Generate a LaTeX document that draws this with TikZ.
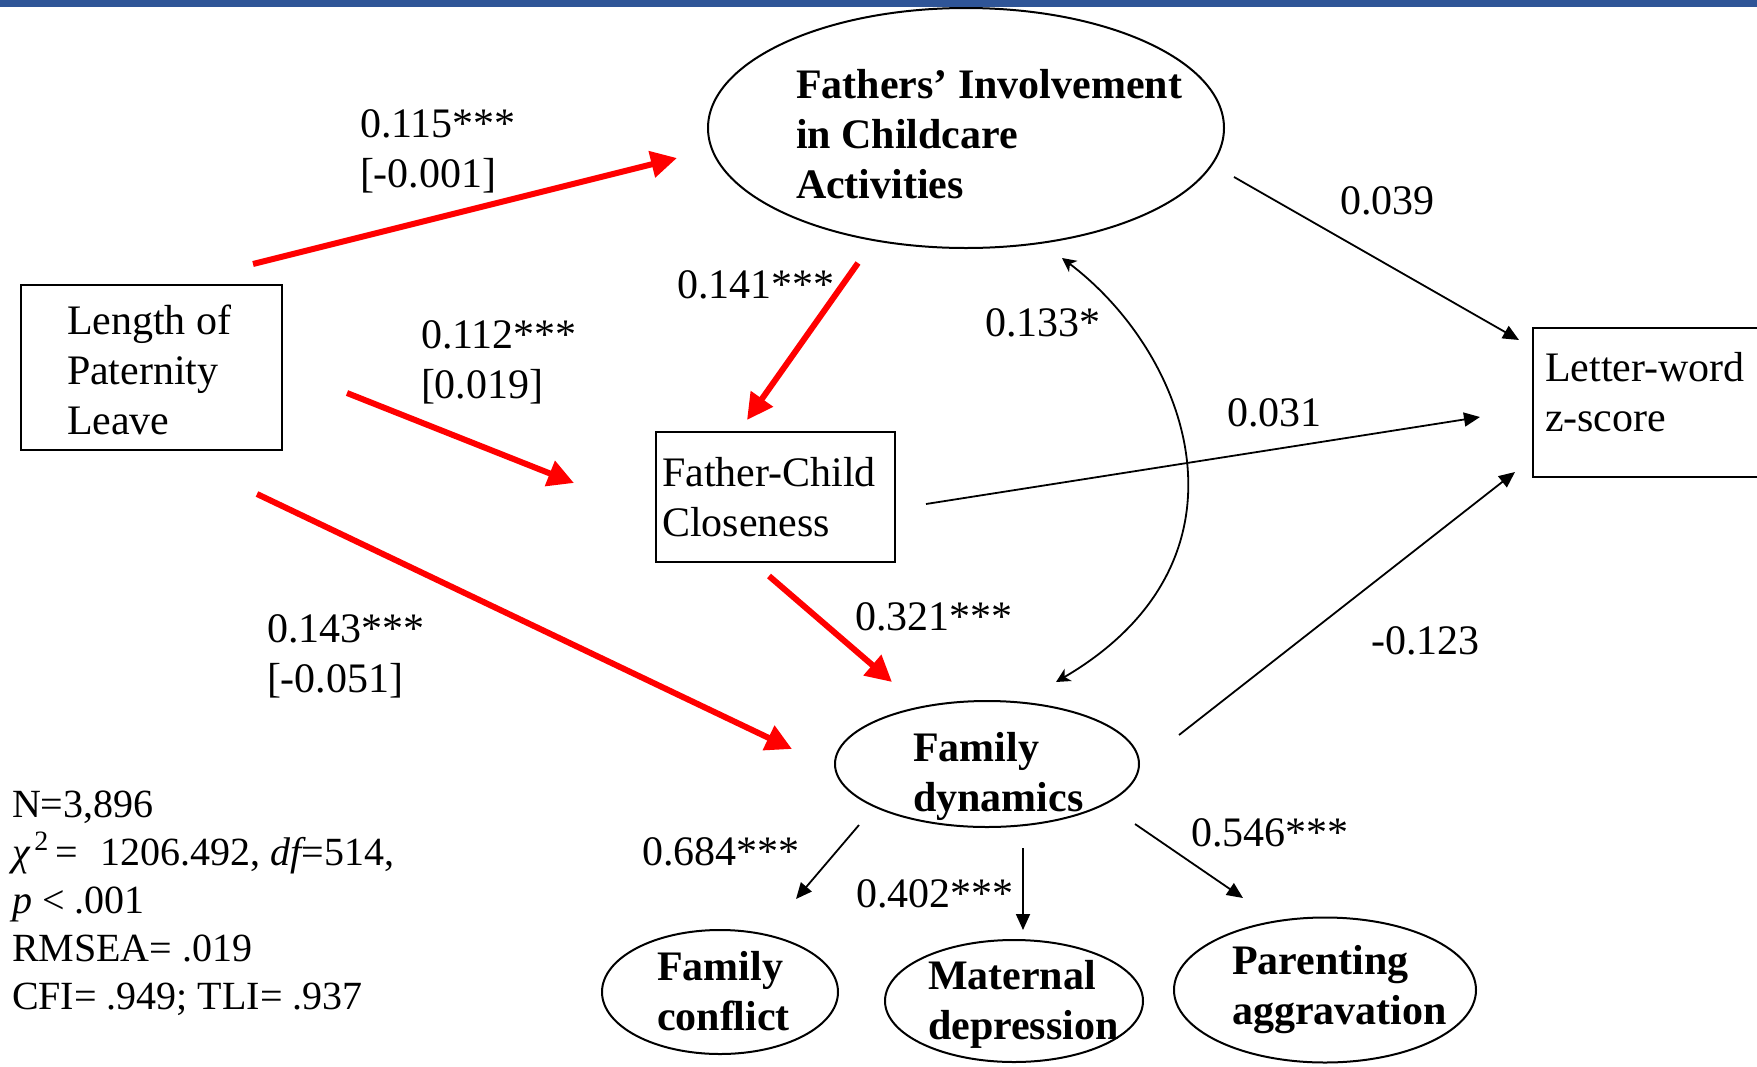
\documentclass[tikz,border=0pt]{standalone}
\usepackage{fontspec}
\setmainfont{Liberation Serif}
\usetikzlibrary{arrows.meta,shapes.geometric}
\definecolor{barblue}{RGB}{47,85,151}
\begin{document}
\begin{tikzpicture}[x=0.5pt,y=-0.5pt,
  every node/.style={font=\fontsize{21}{25}\selectfont, inner sep=0pt, outer sep=0pt},
  txt/.style={anchor=west, align=left},
  btxt/.style={anchor=west, align=left, font=\fontsize{21}{25}\selectfont\bfseries},
  ell/.style={draw, ellipse, line width=1pt},
  box/.style={draw, rectangle, line width=1.1pt},
  redarrow/.style={draw=red, line width=3pt, -{Triangle[length=13pt,width=13pt]}},
  blkarrow/.style={line width=0.9pt, -{Triangle[length=8pt,width=7pt]}},
  curvarrow/.style={line width=0.9pt, {Stealth[length=7pt,width=7pt,inset=2pt]}-{Stealth[length=7pt,width=7pt,inset=2pt]}}
]
\useasboundingbox (0,0) rectangle (1757,1066);
\fill[barblue] (0,0) rectangle (1757,7);

% ellipses
\node[ell, minimum width=258pt, minimum height=120pt] (fi) at (966,128) {};
\node[ell, minimum width=152pt, minimum height=63pt] (fd) at (987,764) {};
\node[ell, minimum width=118pt, minimum height=62pt] (fc) at (720,992) {};
\node[ell, minimum width=129pt, minimum height=61pt] (md) at (1014,1001) {};
\node[ell, minimum width=151pt, minimum height=72.5pt] (pa) at (1325,990) {};

% boxes
\node[box, minimum width=130.5pt, minimum height=82.5pt] (lp) at (151.5,367.5) {};
\node[box, minimum width=119.5pt, minimum height=65pt] (fcc) at (775.5,497) {};
\node[box, minimum width=115pt, minimum height=74.5pt] (lw) at (1648,402.5) {};

% node texts
\node[btxt] (fit) at (796,134.5) {Fathers’ Involvement\\in Childcare\\Activities};
\node[txt] (lpt) at (67,369.5) {Length of\\Paternity\\Leave};
\node[txt] (fcct) at (662,497) {Father-Child\\Closeness};
\node[txt] (lwt) at (1545,392) {Letter-word\\z-score};
\node[btxt] (fdt) at (913,776) {Family\\dynamics};
\node[btxt] (fct) at (657,991) {Family\\conflict};
\node[btxt] (mdt) at (928,1004) {Maternal\\depression};
\node[btxt] (pat) at (1232,990) {Parenting\\aggravation};

% labels
\node[txt] (l115) at (360,151) {0.115***\\{[}-0.001{]}};
\node[txt] (l112) at (421,362) {0.112***\\{[}0.019{]}};
\node[txt] (l143) at (267,656) {0.143***\\{[}-0.051{]}};
\node[txt] (l141) at (677,285) {0.141***};
\node[txt] (l133) at (985,323) {0.133*};
\node[txt] (l039) at (1340,201) {0.039};
\node[txt] (l031) at (1227,413) {0.031};
\node[txt] (l321) at (855,617) {0.321***};
\node[txt] (l123) at (1371,641) {-0.123};
\node[txt] (l684) at (642,852) {0.684***};
\node[txt] (l402) at (856,894) {0.402***};
\node[txt] (l546) at (1191,833) {0.546***};
\node[txt, font=\fontsize{20}{24}\selectfont] (stats) at (12,903)
  {N=3,896\\{\itshape χ}\textsuperscript{\,2}\,=\hspace{0.55em}1206.492, {\itshape df}=514,\\{\itshape p} < .001\\RMSEA= .019\\CFI= .949; TLI= .937};

% connector end points
\coordinate (a1s) at (253,264);  \coordinate (a1e) at (677,158);
\coordinate (a2s) at (347,393);  \coordinate (a2e) at (574,483);
\coordinate (a3s) at (257,494);  \coordinate (a3e) at (792,749);
\coordinate (a4s) at (858,263);  \coordinate (a4e) at (747,420);
\coordinate (a5s) at (769,576);  \coordinate (a5e) at (892,682);
\coordinate (a6s) at (1234,177); \coordinate (a6e) at (1519,340);
\coordinate (a7s) at (926,504);  \coordinate (a7e) at (1480,417);
\coordinate (a8s) at (1179,735); \coordinate (a8e) at (1515,472);
\coordinate (cvs) at (1062,258); \coordinate (cve) at (1056,682);
\coordinate (a10s) at (859,825); \coordinate (a10e) at (796,899);
\coordinate (a11s) at (1023,848); \coordinate (a11e) at (1023,930);
\coordinate (a12s) at (1135,824); \coordinate (a12e) at (1243,898);

% red paths
\draw[redarrow] (a1s) -- (a1e);
\draw[redarrow] (a2s) -- (a2e);
\draw[redarrow] (a3s) -- (a3e);
\draw[redarrow] (a4s) -- (a4e);
\draw[redarrow] (a5s) -- (a5e);

% black paths
\draw[blkarrow] (a6s) -- (a6e);
\draw[blkarrow] (a7s) -- (a7e);
\draw[blkarrow] (a8s) -- (a8e);
\draw[curvarrow] (cvs) .. controls (1190,355) and (1264,560) .. (cve);
\draw[blkarrow] (a10s) -- (a10e);
\draw[blkarrow] (a11s) -- (a11e);
\draw[blkarrow] (a12s) -- (a12e);
\end{tikzpicture}
\end{document}
